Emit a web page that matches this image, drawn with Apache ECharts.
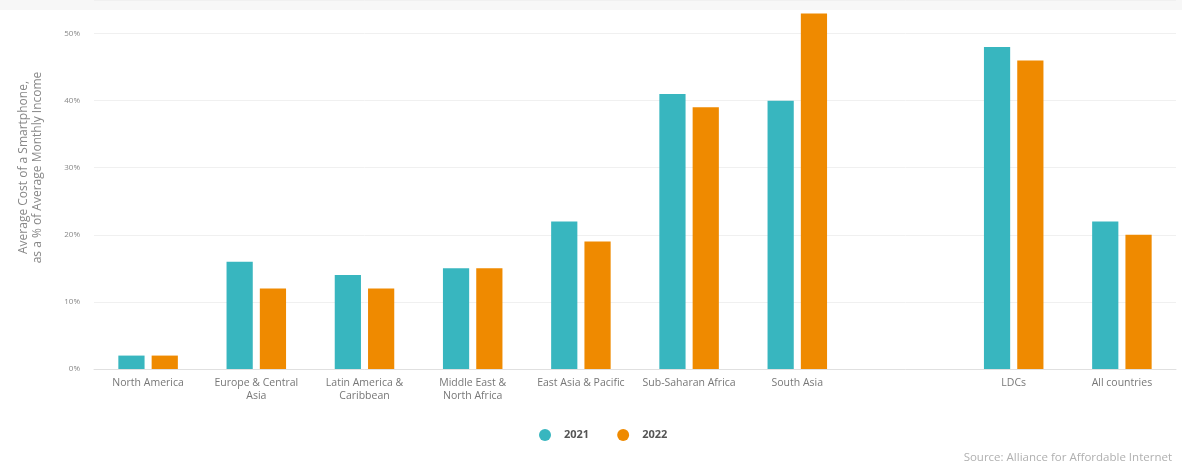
<!DOCTYPE html>
<html>
<head>
<meta charset="utf-8">
<script src="https://cdn.jsdelivr.net/npm/echarts@6/dist/echarts.min.js"></script>
<style>
html,body{margin:0;padding:0;background:#fff;}
#chart{width:1182px;height:467px;}
</style>
</head>
<body>
<div id="chart"></div>
<script>
const categories = ['North America', 'Europe & Central\nAsia', 'Latin America &\nCaribbean', 'Middle East &\nNorth Africa', 'East Asia & Pacific', 'Sub-Saharan Africa', 'South Asia', '', 'LDCs', 'All countries'];
const values2021 = [2, 16, 14, 15, 22, 41, 40, null, 48, 22];
const values2022 = [2, 12, 12, 15, 19, 39, 53, null, 46, 20];
const yTicks = [0, 10, 20, 30, 40, 50];

const chart = echarts.init(document.getElementById('chart'));
chart.setOption({
  backgroundColor: '#ffffff',
  animation: false,
  textStyle: { fontFamily: 'Open Sans' },
  graphic: [
    { type: 'rect', left: 0, top: 0, z: -1, shape: { width: 1182, height: 10 }, style: { fill: '#f7f7f7' } },
    { type: 'text', right: 10, top: 452, style: { text: 'Source: Alliance for Affordable Internet', fill: '#b0b0b0', font: '11.5px "Open Sans"' } }
  ],
  legend: {
    bottom: 21, left: 534, icon: 'circle', itemWidth: 12, itemHeight: 12, itemGap: 28,
    textStyle: { color: '#555', fontSize: 11, fontWeight: 'bold', padding: [0, 0, 0, 8] },
    data: ['2021', '2022']
  },
  grid: { left: 94, right: 6, top: -2, bottom: 98, containLabel: false },
  xAxis: {
    type: 'category', data: categories,
    axisLine: { lineStyle: { color: '#e0e0e0' } },
    axisTick: { show: false },
    axisLabel: { color: '#777', fontSize: 10.5, margin: 8, interval: 0, lineHeight: 13 }
  },
  yAxis: {
    type: 'value', min: 0, max: 55, interval: 10,
    name: 'Average Cost of a Smartphone,\nas a % of Average Monthly Income',
    nameLocation: 'middle', nameGap: 49, nameRotate: 90,
    nameTextStyle: { color: '#888', fontSize: 12, lineHeight: 14, padding: [0, 0, 0, 34] },
    axisLine: { show: false }, axisTick: { show: false },
    axisLabel: { color: '#888', fontSize: 8, margin: 14, showMaxLabel: false,
      formatter: v => yTicks.includes(v) ? v + '%' : '' },
    splitLine: { lineStyle: { color: '#f0f0f0' } }
  },
  series: [
    { name: '2021', type: 'bar', data: values2021, itemStyle: { color: '#38b6bf' }, barGap: '27%', barCategoryGap: '45%' },
    { name: '2022', type: 'bar', data: values2022, itemStyle: { color: '#ef8a00' } }
  ]
});
</script>
</body>
</html>
